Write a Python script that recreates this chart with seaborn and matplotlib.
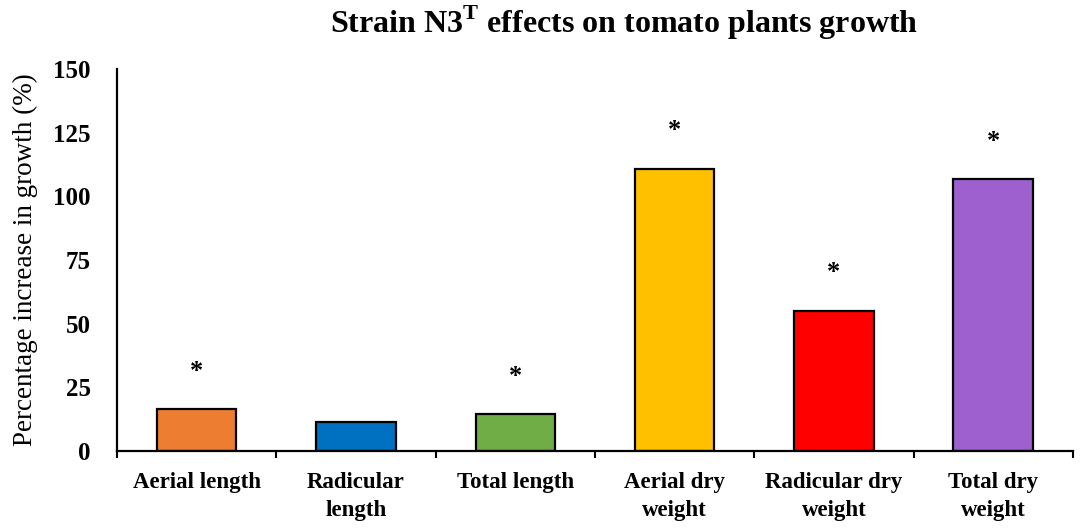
import matplotlib
matplotlib.use("Agg")
import matplotlib.pyplot as plt
import seaborn as sns
import pandas as pd
import numpy as np

categories = ["Aerial length", "Radicular\nlength", "Total length",
              "Aerial dry\nweight", "Radicular dry\nweight", "Total dry\nweight"]
values = [16.4, 11.5, 14.4, 110.7, 55.1, 106.7]
significant = [True, False, True, True, True, True]
colors = ["#ED7D31", "#0070C0", "#70AD47", "#FFC000", "#FF0000", "#9E5FCF"]
yticks = [0, 25, 50, 75, 100, 125, 150]

sns.set_theme(style="white")
plt.rcParams['font.family'] = ['Liberation Serif', 'DejaVu Serif']
plt.rcParams['text.color'] = 'black'
plt.rcParams['axes.labelcolor'] = 'black'
plt.rcParams['xtick.color'] = 'black'
plt.rcParams['ytick.color'] = 'black'
plt.rcParams['mathtext.fontset'] = 'custom'
plt.rcParams['mathtext.rm'] = 'Liberation Serif'
plt.rcParams['mathtext.bf'] = 'Liberation Serif:bold'

df = pd.DataFrame({"category": categories, "value": values})

fig = plt.figure(figsize=(10.84, 5.32), dpi=100)
ax = fig.add_axes([117/1084, 81/532, 956/1084, 382/532])

sns.barplot(data=df, x="category", y="value", hue="category",
            palette=colors, saturation=1, width=0.5, edgecolor="black",
            linewidth=1.6, legend=False, ax=ax)

for i, (v, s) in enumerate(zip(values, significant)):
    if s:
        ax.text(i, v + 15, "*", ha="center", va="center",
                fontsize=19, fontweight="bold")

ax.set_ylim(0, 150)
ax.set_xlim(-0.5, 5.5)
ax.set_yticks(yticks)
ax.set_yticklabels([str(t) for t in yticks], fontsize=18, fontweight="bold")
ax.tick_params(axis="y", length=0, pad=19)
ax.tick_params(axis="x", which="major", length=0, pad=15)
ax.set_xticks(np.arange(-0.5, 6.0, 1.0), minor=True)
ax.tick_params(axis="x", which="minor", length=5, width=1.5, direction="out",
               color="black", bottom=True)
for lab in ax.get_xticklabels():
    lab.set_fontsize(16.5)
    lab.set_fontweight("bold")
    lab.set_linespacing(1.45)

sns.despine(ax=ax)
for sp in ["left", "bottom"]:
    ax.spines[sp].set_linewidth(1.6)
    ax.spines[sp].set_color("black")

ax.set_xlabel("")
ax.set_ylabel("Percentage increase in growth (%)", fontsize=19.5)
ax.yaxis.set_label_coords(-(117 - 38) / 956, 0.5)

fig.text(624/1084, 1 - 23/532, r"Strain N3$^{\mathbf{T}}$ effects on tomato plants growth",
         ha="center", va="center", fontsize=23, fontweight="bold")

fig.savefig("out.png", dpi=100)
